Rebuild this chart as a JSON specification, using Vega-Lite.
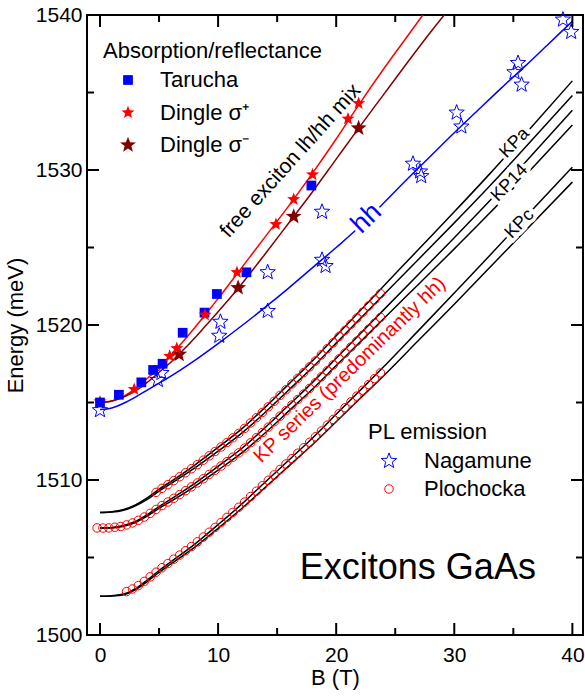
{
"$schema": "https://vega.github.io/schema/vega-lite/v6.json",
"width": 496, "height": 620,
"autosize": {"type": "none"},
"padding": {"left": 87, "top": 15, "right": 2, "bottom": 63},
"config": {
 "font": "Liberation Sans",
 "view": {"stroke": "black", "strokeWidth": 2},
 "axis": {"labelFontSize": 21, "titleFontSize": 22, "labelColor": "black", "titleColor": "black", "titleFontWeight": "normal", "grid": false, "domain": false, "ticks": false, "format": "d"},
 "legend": {"titleFontSize": 22, "labelFontSize": 22, "titleFontWeight": "normal", "titleColor": "black", "labelColor": "black", "titleLimit": 400, "labelLimit": 300}
},
"datasets": {
 "xmaj": [{"B":0},{"B":10},{"B":20},{"B":30},{"B":40}],
 "xmin": [{"B":5},{"B":15},{"B":25},{"B":35}],
 "ymaj": [{"E":1500},{"E":1510},{"E":1520},{"E":1530},{"E":1540}],
 "ymin": [{"E":1505},{"E":1515},{"E":1525},{"E":1535}],
 "curves": [
  {"c":"s+","B":0,"E":1515.0},{"c":"s+","B":1,"E":1515.1},{"c":"s+","B":2,"E":1515.4},{"c":"s+","B":3,"E":1515.9},{"c":"s+","B":4,"E":1516.55},{"c":"s+","B":5,"E":1517.25},{"c":"s+","B":6,"E":1518.05},{"c":"s+","B":7,"E":1518.9},{"c":"s+","B":8,"E":1519.8},{"c":"s+","B":9,"E":1520.75},{"c":"s+","B":10,"E":1521.7},{"c":"s+","B":12,"E":1523.7},{"c":"s+","B":14,"E":1525.7},{"c":"s+","B":16,"E":1527.7},{"c":"s+","B":18,"E":1529.8},{"c":"s+","B":20,"E":1532.0},{"c":"s+","B":22,"E":1534.3},{"c":"s+","B":24,"E":1536.5},{"c":"s+","B":26,"E":1538.6},{"c":"s+","B":28,"E":1540.7},
  {"c":"s-","B":0,"E":1515.0},{"c":"s-","B":1,"E":1515.1},{"c":"s-","B":2,"E":1515.35},{"c":"s-","B":3,"E":1515.75},{"c":"s-","B":4,"E":1516.3},{"c":"s-","B":5,"E":1516.95},{"c":"s-","B":6,"E":1517.6},{"c":"s-","B":7,"E":1518.35},{"c":"s-","B":8,"E":1519.15},{"c":"s-","B":9,"E":1520.0},{"c":"s-","B":10,"E":1520.85},{"c":"s-","B":12,"E":1522.65},{"c":"s-","B":14,"E":1524.6},{"c":"s-","B":16,"E":1526.6},{"c":"s-","B":18,"E":1528.6},{"c":"s-","B":20,"E":1530.7},{"c":"s-","B":22,"E":1532.8},{"c":"s-","B":24,"E":1534.85},{"c":"s-","B":26,"E":1536.9},{"c":"s-","B":28,"E":1538.9},{"c":"s-","B":30,"E":1540.8},
  {"c":"hh","B":0,"E":1514.55},{"c":"hh","B":1,"E":1514.65},{"c":"hh","B":2,"E":1514.95},{"c":"hh","B":3,"E":1515.35},{"c":"hh","B":4,"E":1515.8},{"c":"hh","B":5,"E":1516.25},{"c":"hh","B":6,"E":1516.7},{"c":"hh","B":8,"E":1517.7},{"c":"hh","B":10,"E":1518.8},{"c":"hh","B":12,"E":1519.95},{"c":"hh","B":14,"E":1521.15},{"c":"hh","B":16,"E":1522.4},{"c":"hh","B":18,"E":1523.7},{"c":"hh","B":20,"E":1525.0},{"c":"hh","B":22,"E":1526.35},{"c":"hh","B":24,"E":1527.85},{"c":"hh","B":26,"E":1529.4},{"c":"hh","B":28,"E":1530.9},{"c":"hh","B":30,"E":1532.4},{"c":"hh","B":32,"E":1533.85},{"c":"hh","B":34,"E":1535.3},{"c":"hh","B":36,"E":1536.7},{"c":"hh","B":38,"E":1538.15},{"c":"hh","B":40,"E":1539.6},
  {"c":"k1","B":0,"E":1507.9},{"c":"k1","B":1,"E":1507.95},{"c":"k1","B":2,"E":1508.1},{"c":"k1","B":3,"E":1508.4},{"c":"k1","B":4,"E":1508.85},{"c":"k1","B":5,"E":1509.4},{"c":"k1","B":6,"E":1509.9},{"c":"k1","B":8,"E":1510.95},{"c":"k1","B":10,"E":1512.1},{"c":"k1","B":12,"E":1513.3},{"c":"k1","B":14,"E":1514.7},{"c":"k1","B":16,"E":1516.2},{"c":"k1","B":18,"E":1517.7},{"c":"k1","B":20,"E":1519.3},{"c":"k1","B":22,"E":1520.9},{"c":"k1","B":24,"E":1522.5},{"c":"k1","B":27,"E":1524.9},{"c":"k1","B":30,"E":1527.3},{"c":"k1","B":33,"E":1529.75},{"c":"k1","B":36,"E":1532.3},{"c":"k1","B":40,"E":1535.75},
  {"c":"k2","B":0,"E":1507.9},{"c":"k2","B":1,"E":1507.93},{"c":"k2","B":2,"E":1508.05},{"c":"k2","B":3,"E":1508.33},{"c":"k2","B":4,"E":1508.75},{"c":"k2","B":5,"E":1509.28},{"c":"k2","B":6,"E":1509.76},{"c":"k2","B":8,"E":1510.76},{"c":"k2","B":10,"E":1511.86},{"c":"k2","B":12,"E":1513.02},{"c":"k2","B":14,"E":1514.37},{"c":"k2","B":16,"E":1515.82},{"c":"k2","B":18,"E":1517.27},{"c":"k2","B":20,"E":1518.83},{"c":"k2","B":22,"E":1520.38},{"c":"k2","B":24,"E":1521.93},{"c":"k2","B":27,"E":1524.26},{"c":"k2","B":30,"E":1526.59},{"c":"k2","B":33,"E":1528.97},{"c":"k2","B":36,"E":1531.45},{"c":"k2","B":40,"E":1534.8},
  {"c":"k3","B":0,"E":1506.9},{"c":"k3","B":1,"E":1506.93},{"c":"k3","B":2,"E":1507.06},{"c":"k3","B":3,"E":1507.33},{"c":"k3","B":4,"E":1507.76},{"c":"k3","B":5,"E":1508.29},{"c":"k3","B":6,"E":1508.77},{"c":"k3","B":8,"E":1509.77},{"c":"k3","B":10,"E":1510.88},{"c":"k3","B":12,"E":1512.03},{"c":"k3","B":14,"E":1513.39},{"c":"k3","B":16,"E":1514.84},{"c":"k3","B":18,"E":1516.3},{"c":"k3","B":20,"E":1517.85},{"c":"k3","B":22,"E":1519.41},{"c":"k3","B":24,"E":1520.96},{"c":"k3","B":27,"E":1523.29},{"c":"k3","B":30,"E":1525.63},{"c":"k3","B":33,"E":1528.01},{"c":"k3","B":36,"E":1530.49},{"c":"k3","B":40,"E":1533.85},
  {"c":"k4","B":0,"E":1506.9},{"c":"k4","B":1,"E":1506.9},{"c":"k4","B":2,"E":1507.01},{"c":"k4","B":3,"E":1507.26},{"c":"k4","B":4,"E":1507.67},{"c":"k4","B":5,"E":1508.17},{"c":"k4","B":6,"E":1508.62},{"c":"k4","B":8,"E":1509.58},{"c":"k4","B":10,"E":1510.64},{"c":"k4","B":12,"E":1511.75},{"c":"k4","B":14,"E":1513.05},{"c":"k4","B":16,"E":1514.46},{"c":"k4","B":18,"E":1515.87},{"c":"k4","B":20,"E":1517.38},{"c":"k4","B":22,"E":1518.88},{"c":"k4","B":24,"E":1520.39},{"c":"k4","B":27,"E":1522.65},{"c":"k4","B":30,"E":1524.91},{"c":"k4","B":33,"E":1527.22},{"c":"k4","B":36,"E":1529.63},{"c":"k4","B":40,"E":1532.9},
  {"c":"k5","B":0,"E":1502.5},{"c":"k5","B":1,"E":1502.54},{"c":"k5","B":2,"E":1502.64},{"c":"k5","B":3,"E":1502.99},{"c":"k5","B":4,"E":1503.55},{"c":"k5","B":5,"E":1504.16},{"c":"k5","B":6,"E":1504.72},{"c":"k5","B":8,"E":1505.85},{"c":"k5","B":10,"E":1507.12},{"c":"k5","B":12,"E":1508.44},{"c":"k5","B":14,"E":1509.87},{"c":"k5","B":16,"E":1511.29},{"c":"k5","B":18,"E":1512.71},{"c":"k5","B":20,"E":1514.24},{"c":"k5","B":22,"E":1515.76},{"c":"k5","B":24,"E":1517.29},{"c":"k5","B":27,"E":1519.67},{"c":"k5","B":30,"E":1522.06},{"c":"k5","B":33,"E":1524.49},{"c":"k5","B":36,"E":1526.93},{"c":"k5","B":40,"E":1530.18},
  {"c":"k6","B":0,"E":1502.5},{"c":"k6","B":1,"E":1502.52},{"c":"k6","B":2,"E":1502.6},{"c":"k6","B":3,"E":1502.91},{"c":"k6","B":4,"E":1503.45},{"c":"k6","B":5,"E":1504.04},{"c":"k6","B":6,"E":1504.58},{"c":"k6","B":8,"E":1505.65},{"c":"k6","B":10,"E":1506.88},{"c":"k6","B":12,"E":1508.16},{"c":"k6","B":14,"E":1509.53},{"c":"k6","B":16,"E":1510.91},{"c":"k6","B":18,"E":1512.29},{"c":"k6","B":20,"E":1513.76},{"c":"k6","B":22,"E":1515.24},{"c":"k6","B":24,"E":1516.71},{"c":"k6","B":27,"E":1519.03},{"c":"k6","B":30,"E":1521.34},{"c":"k6","B":33,"E":1523.71},{"c":"k6","B":36,"E":1526.07},{"c":"k6","B":40,"E":1529.22}
 ],
 "pl": [
  {"s":"Nagamune","B":0,"E":1514.5},{"s":"Nagamune","B":4.9,"E":1516.45},{"s":"Nagamune","B":5.2,"E":1516.9},{"s":"Nagamune","B":10.2,"E":1520.2},{"s":"Nagamune","B":10.1,"E":1519.3},{"s":"Nagamune","B":14.2,"E":1523.4},{"s":"Nagamune","B":14.2,"E":1520.9},{"s":"Nagamune","B":18.8,"E":1527.3},{"s":"Nagamune","B":18.8,"E":1524.2},{"s":"Nagamune","B":19.1,"E":1523.8},{"s":"Nagamune","B":26.5,"E":1530.4},{"s":"Nagamune","B":27.1,"E":1529.9},{"s":"Nagamune","B":27.2,"E":1529.6},{"s":"Nagamune","B":30.2,"E":1533.7},{"s":"Nagamune","B":30.6,"E":1532.8},{"s":"Nagamune","B":35.1,"E":1536.3},{"s":"Nagamune","B":35.4,"E":1536.9},{"s":"Nagamune","B":35.7,"E":1535.5},{"s":"Nagamune","B":39.2,"E":1539.7},{"s":"Nagamune","B":39.9,"E":1538.9},
  {"s":"Plochocka","B":-0.25,"E":1506.91},{"s":"Plochocka","B":0.25,"E":1506.9},{"s":"Plochocka","B":0.75,"E":1506.91},{"s":"Plochocka","B":1.25,"E":1506.95},{"s":"Plochocka","B":1.75,"E":1507.0},{"s":"Plochocka","B":2.25,"E":1507.1},{"s":"Plochocka","B":2.75,"E":1507.23},{"s":"Plochocka","B":3.25,"E":1507.4},{"s":"Plochocka","B":3.75,"E":1507.61},{"s":"Plochocka","B":4.25,"E":1507.85},{"s":"Plochocka","B":4.75,"E":1508.1},{"s":"Plochocka","B":5.25,"E":1508.35},{"s":"Plochocka","B":5.75,"E":1508.58},{"s":"Plochocka","B":6.25,"E":1508.82},{"s":"Plochocka","B":6.75,"E":1509.06},{"s":"Plochocka","B":7.25,"E":1509.31},{"s":"Plochocka","B":7.75,"E":1509.56},{"s":"Plochocka","B":8.25,"E":1509.81},{"s":"Plochocka","B":8.75,"E":1510.08},{"s":"Plochocka","B":9.25,"E":1510.36},{"s":"Plochocka","B":9.75,"E":1510.63},{"s":"Plochocka","B":10.25,"E":1510.9},{"s":"Plochocka","B":10.75,"E":1511.18},{"s":"Plochocka","B":11.25,"E":1511.47},{"s":"Plochocka","B":11.75,"E":1511.75},{"s":"Plochocka","B":12.25,"E":1512.06},{"s":"Plochocka","B":12.75,"E":1512.4},{"s":"Plochocka","B":13.25,"E":1512.73},{"s":"Plochocka","B":13.75,"E":1513.06},{"s":"Plochocka","B":14.25,"E":1513.41},{"s":"Plochocka","B":14.75,"E":1513.76},{"s":"Plochocka","B":15.25,"E":1514.12},{"s":"Plochocka","B":15.75,"E":1514.47},{"s":"Plochocka","B":16.25,"E":1514.84},{"s":"Plochocka","B":16.75,"E":1515.19},{"s":"Plochocka","B":17.25,"E":1515.55},{"s":"Plochocka","B":17.75,"E":1515.91},{"s":"Plochocka","B":18.25,"E":1516.28},{"s":"Plochocka","B":18.75,"E":1516.66},{"s":"Plochocka","B":19.25,"E":1517.05},{"s":"Plochocka","B":19.75,"E":1517.43},{"s":"Plochocka","B":20.25,"E":1517.81},{"s":"Plochocka","B":20.75,"E":1518.19},{"s":"Plochocka","B":21.25,"E":1518.58},{"s":"Plochocka","B":21.75,"E":1518.96},{"s":"Plochocka","B":22.25,"E":1519.34},{"s":"Plochocka","B":22.75,"E":1519.73},{"s":"Plochocka","B":23.25,"E":1520.11},{"s":"Plochocka","B":23.75,"E":1520.49},
  {"s":"Plochocka","B":4.75,"E":1509.2},{"s":"Plochocka","B":5.25,"E":1509.46},{"s":"Plochocka","B":5.75,"E":1509.7},{"s":"Plochocka","B":6.25,"E":1509.96},{"s":"Plochocka","B":6.75,"E":1510.21},{"s":"Plochocka","B":7.25,"E":1510.47},{"s":"Plochocka","B":7.75,"E":1510.73},{"s":"Plochocka","B":8.25,"E":1510.99},{"s":"Plochocka","B":8.75,"E":1511.28},{"s":"Plochocka","B":9.25,"E":1511.56},{"s":"Plochocka","B":9.75,"E":1511.84},{"s":"Plochocka","B":10.25,"E":1512.13},{"s":"Plochocka","B":10.75,"E":1512.42},{"s":"Plochocka","B":11.25,"E":1512.72},{"s":"Plochocka","B":11.75,"E":1513.01},{"s":"Plochocka","B":12.25,"E":1513.33},{"s":"Plochocka","B":12.75,"E":1513.68},{"s":"Plochocka","B":13.25,"E":1514.02},{"s":"Plochocka","B":13.75,"E":1514.36},{"s":"Plochocka","B":14.25,"E":1514.72},{"s":"Plochocka","B":14.75,"E":1515.08},{"s":"Plochocka","B":15.25,"E":1515.46},{"s":"Plochocka","B":15.75,"E":1515.82},{"s":"Plochocka","B":16.25,"E":1516.2},{"s":"Plochocka","B":16.75,"E":1516.56},{"s":"Plochocka","B":17.25,"E":1516.93},{"s":"Plochocka","B":17.75,"E":1517.3},{"s":"Plochocka","B":18.25,"E":1517.68},{"s":"Plochocka","B":18.75,"E":1518.08},{"s":"Plochocka","B":19.25,"E":1518.47},{"s":"Plochocka","B":19.75,"E":1518.86},{"s":"Plochocka","B":20.25,"E":1519.26},{"s":"Plochocka","B":20.75,"E":1519.65},{"s":"Plochocka","B":21.25,"E":1520.05},{"s":"Plochocka","B":21.75,"E":1520.44},{"s":"Plochocka","B":22.25,"E":1520.83},{"s":"Plochocka","B":22.75,"E":1521.23},{"s":"Plochocka","B":23.25,"E":1521.62},{"s":"Plochocka","B":23.75,"E":1522.02},
  {"s":"Plochocka","B":2.25,"E":1502.8},{"s":"Plochocka","B":2.75,"E":1502.97},{"s":"Plochocka","B":3.25,"E":1503.19},{"s":"Plochocka","B":3.75,"E":1503.46},{"s":"Plochocka","B":4.25,"E":1503.75},{"s":"Plochocka","B":4.75,"E":1504.05},{"s":"Plochocka","B":5.25,"E":1504.34},{"s":"Plochocka","B":5.75,"E":1504.61},{"s":"Plochocka","B":6.25,"E":1504.89},{"s":"Plochocka","B":6.75,"E":1505.16},{"s":"Plochocka","B":7.25,"E":1505.44},{"s":"Plochocka","B":7.75,"E":1505.71},{"s":"Plochocka","B":8.25,"E":1506.01},{"s":"Plochocka","B":8.75,"E":1506.32},{"s":"Plochocka","B":9.25,"E":1506.63},{"s":"Plochocka","B":9.75,"E":1506.94},{"s":"Plochocka","B":10.25,"E":1507.26},{"s":"Plochocka","B":10.75,"E":1507.59},{"s":"Plochocka","B":11.25,"E":1507.91},{"s":"Plochocka","B":11.75,"E":1508.24},{"s":"Plochocka","B":12.25,"E":1508.58},{"s":"Plochocka","B":12.75,"E":1508.93},{"s":"Plochocka","B":13.25,"E":1509.28},{"s":"Plochocka","B":13.75,"E":1509.63},{"s":"Plochocka","B":14.25,"E":1509.98},{"s":"Plochocka","B":14.75,"E":1510.33},{"s":"Plochocka","B":15.25,"E":1510.68},{"s":"Plochocka","B":15.75,"E":1511.03},{"s":"Plochocka","B":16.25,"E":1511.38},{"s":"Plochocka","B":16.75,"E":1511.73},{"s":"Plochocka","B":17.25,"E":1512.08},{"s":"Plochocka","B":17.75,"E":1512.43},{"s":"Plochocka","B":18.25,"E":1512.79},{"s":"Plochocka","B":18.75,"E":1513.16},{"s":"Plochocka","B":19.25,"E":1513.54},{"s":"Plochocka","B":19.75,"E":1513.91},{"s":"Plochocka","B":20.25,"E":1514.29},{"s":"Plochocka","B":20.75,"E":1514.66},{"s":"Plochocka","B":21.25,"E":1515.04},{"s":"Plochocka","B":21.75,"E":1515.41},{"s":"Plochocka","B":22.25,"E":1515.79},{"s":"Plochocka","B":22.75,"E":1516.16},{"s":"Plochocka","B":23.25,"E":1516.54},{"s":"Plochocka","B":23.75,"E":1516.91}
 ],
 "abs": [
  {"s":"Dingle σ⁺","B":0,"E":1515.05},
  {"s":"Tarucha","B":0,"E":1515.0},{"s":"Tarucha","B":1.6,"E":1515.5},{"s":"Tarucha","B":3.5,"E":1516.3},{"s":"Tarucha","B":4.5,"E":1517.1},{"s":"Tarucha","B":5.3,"E":1517.5},{"s":"Tarucha","B":7.0,"E":1519.5},{"s":"Tarucha","B":8.85,"E":1520.8},{"s":"Tarucha","B":9.9,"E":1522.0},{"s":"Tarucha","B":12.4,"E":1523.4},{"s":"Tarucha","B":17.9,"E":1529.0},
  {"s":"Dingle σ⁻","B":6.7,"E":1518.1},{"s":"Dingle σ⁻","B":11.7,"E":1522.4},{"s":"Dingle σ⁻","B":16.4,"E":1527.0},{"s":"Dingle σ⁻","B":21.9,"E":1532.7},
  {"s":"Dingle σ⁺","B":2.9,"E":1515.85},{"s":"Dingle σ⁺","B":5.9,"E":1518.0},{"s":"Dingle σ⁺","B":6.5,"E":1518.5},{"s":"Dingle σ⁺","B":8.9,"E":1520.65},{"s":"Dingle σ⁺","B":11.6,"E":1523.4},{"s":"Dingle σ⁺","B":14.9,"E":1526.5},{"s":"Dingle σ⁺","B":16.4,"E":1528.1},{"s":"Dingle σ⁺","B":18.0,"E":1529.7},{"s":"Dingle σ⁺","B":21.0,"E":1533.3},{"s":"Dingle σ⁺","B":21.9,"E":1534.3}
 ],
 "kp": [
  {"B":35.11,"E":1531.74,"t":"KPa"},{"B":34.69,"E":1529.16,"t":"KP14"},{"B":35.53,"E":1526.52,"t":"KPc"}
 ]
},
"resolve": {"scale": {"color": "independent", "shape": "independent", "size": "independent"}, "axis": {"x": "independent", "y": "independent"}},
"layer": [
 {
  "data": {"name": "curves"},
  "mark": {"type": "line", "interpolate": "monotone", "strokeWidth": 1.5, "clip": true},
  "encoding": {
   "x": {"field": "B", "type": "quantitative", "scale": {"domain": [-1.1, 40.9], "nice": false, "zero": false}, "axis": {"orient": "bottom", "values": [0, 10, 20, 30, 40], "ticks": false, "labelPadding": 9, "title": "B (T)", "titlePadding": 2}},
   "y": {"field": "E", "type": "quantitative", "scale": {"domain": [1500, 1540], "nice": false, "zero": false}, "axis": {"orient": "left", "values": [1500, 1510, 1520, 1530, 1540], "ticks": false, "labelPadding": 5, "title": "Energy (meV)", "titlePadding": 8}},
   "color": {"field": "c", "type": "nominal", "scale": {"domain": ["s+", "s-", "hh", "k1", "k2", "k3", "k4", "k5", "k6"], "range": ["#ff0000", "#800000", "#0000ff", "#000000", "#000000", "#000000", "#000000", "#000000", "#000000"]}, "legend": null}
  }
 },
 {
  "data": {"name": "pl"},
  "mark": {"type": "point", "filled": false, "strokeWidth": 1, "opacity": 1},
  "encoding": {
   "x": {"field": "B", "type": "quantitative", "scale": {"domain": [-1.1, 40.9], "nice": false, "zero": false}, "axis": null},
   "y": {"field": "E", "type": "quantitative", "scale": {"domain": [1500, 1540], "nice": false, "zero": false}, "axis": null},
   "color": {"field": "s", "type": "nominal", "scale": {"domain": ["Nagamune", "Plochocka"], "range": ["#0000ff", "#ff0000"]},
     "legend": {"title": "PL emission", "orient": "none", "legendX": 281, "legendY": 407, "symbolOffset": 10, "labelOffset": 24, "rowPadding": 6, "titlePadding": 6, "symbolStrokeWidth": 1}},
   "shape": {"field": "s", "type": "nominal", "scale": {"domain": ["Nagamune", "Plochocka"], "range": ["M0,-1L0.247,-0.34L0.951,-0.309L0.4,0.13L0.588,0.809L0,0.42L-0.588,0.809L-0.4,0.13L-0.951,-0.309L-0.247,-0.34Z", "circle"]}},
   "size": {"field": "s", "type": "nominal", "scale": {"domain": ["Nagamune", "Plochocka"], "range": [260, 72]}}
  }
 },
 {
  "data": {"name": "abs"},
  "mark": {"type": "point", "filled": true, "opacity": 1},
  "encoding": {
   "x": {"field": "B", "type": "quantitative", "scale": {"domain": [-1.1, 40.9], "nice": false, "zero": false}, "axis": null},
   "y": {"field": "E", "type": "quantitative", "scale": {"domain": [1500, 1540], "nice": false, "zero": false}, "axis": null},
   "color": {"field": "s", "type": "nominal", "scale": {"domain": ["Tarucha", "Dingle σ⁺", "Dingle σ⁻"], "range": ["#0000ff", "#ff0000", "#800000"]},
     "legend": {"title": "Absorption/reflectance", "orient": "none", "legendX": 16, "legendY": 26, "symbolOffset": 14, "labelOffset": 21, "rowPadding": 10.5, "titlePadding": 6}},
   "shape": {"field": "s", "type": "nominal", "scale": {"domain": ["Tarucha", "Dingle σ⁺", "Dingle σ⁻"], "range": ["square", "M0,-1L0.247,-0.34L0.951,-0.309L0.4,0.13L0.588,0.809L0,0.42L-0.588,0.809L-0.4,0.13L-0.951,-0.309L-0.247,-0.34Z", "M0,-1L0.247,-0.34L0.951,-0.309L0.4,0.13L0.588,0.809L0,0.42L-0.588,0.809L-0.4,0.13L-0.951,-0.309L-0.247,-0.34Z"]}},
   "size": {"field": "s", "type": "nominal", "scale": {"domain": ["Tarucha", "Dingle σ⁺", "Dingle σ⁻"], "range": [95, 280, 280]}}
  }
 },
 {
  "data": {"name": "kp"},
  "mark": {"type": "text", "angle": -46, "fontSize": 18, "align": "center", "baseline": "middle", "fill": "white", "stroke": "white", "strokeWidth": 7},
  "encoding": {
   "x": {"field": "B", "type": "quantitative", "scale": {"domain": [-1.1, 40.9], "nice": false, "zero": false}, "axis": null},
   "y": {"field": "E", "type": "quantitative", "scale": {"domain": [1500, 1540], "nice": false, "zero": false}, "axis": null},
   "text": {"field": "t"}
  }
 },
 {
  "data": {"name": "kp"},
  "mark": {"type": "text", "angle": -46, "fontSize": 18, "align": "center", "baseline": "middle", "fill": "black"},
  "encoding": {
   "x": {"field": "B", "type": "quantitative", "scale": {"domain": [-1.1, 40.9], "nice": false, "zero": false}, "axis": null},
   "y": {"field": "E", "type": "quantitative", "scale": {"domain": [1500, 1540], "nice": false, "zero": false}, "axis": null},
   "text": {"field": "t"}
  }
 },
 {
  "data": {"values": [{"B": 22.56, "E": 1526.88, "t": "hh"}]},
  "mark": {"type": "text", "angle": -44, "fontSize": 27, "align": "center", "baseline": "middle", "fill": "white", "stroke": "white", "strokeWidth": 7},
  "encoding": {
   "x": {"field": "B", "type": "quantitative", "scale": {"domain": [-1.1, 40.9], "nice": false, "zero": false}, "axis": null},
   "y": {"field": "E", "type": "quantitative", "scale": {"domain": [1500, 1540], "nice": false, "zero": false}, "axis": null},
   "text": {"field": "t"}
  }
 },
 {
  "data": {"values": [{"B": 22.56, "E": 1526.88, "t": "hh"}]},
  "mark": {"type": "text", "angle": -44, "fontSize": 27, "align": "center", "baseline": "middle", "fill": "#0000ff"},
  "encoding": {
   "x": {"field": "B", "type": "quantitative", "scale": {"domain": [-1.1, 40.9], "nice": false, "zero": false}, "axis": null},
   "y": {"field": "E", "type": "quantitative", "scale": {"domain": [1500, 1540], "nice": false, "zero": false}, "axis": null},
   "text": {"field": "t"}
  }
 },
 {
  "data": {"values": [{"B": 16.15, "E": 1530.58, "t": "free exciton lh/hh mix"}]},
  "mark": {"type": "text", "angle": -48, "fontSize": 21, "align": "center", "baseline": "middle", "fill": "black"},
  "encoding": {
   "x": {"field": "B", "type": "quantitative", "scale": {"domain": [-1.1, 40.9], "nice": false, "zero": false}, "axis": null},
   "y": {"field": "E", "type": "quantitative", "scale": {"domain": [1500, 1540], "nice": false, "zero": false}, "axis": null},
   "text": {"field": "t"}
  }
 },
 {
  "data": {"values": [{"B": 21.15, "E": 1517.1, "t": "KP series (predominantly hh)"}]},
  "mark": {"type": "text", "angle": -44, "fontSize": 20, "align": "center", "baseline": "middle", "fill": "#ff0000"},
  "encoding": {
   "x": {"field": "B", "type": "quantitative", "scale": {"domain": [-1.1, 40.9], "nice": false, "zero": false}, "axis": null},
   "y": {"field": "E", "type": "quantitative", "scale": {"domain": [1500, 1540], "nice": false, "zero": false}, "axis": null},
   "text": {"field": "t"}
  }
 },
 {
  "data": {"values": [{"B": 16.92, "E": 1504.3, "t": "Excitons GaAs"}]},
  "mark": {"type": "text", "fontSize": 36, "align": "left", "baseline": "middle", "fill": "black"},
  "encoding": {
   "x": {"field": "B", "type": "quantitative", "scale": {"domain": [-1.1, 40.9], "nice": false, "zero": false}, "axis": null},
   "y": {"field": "E", "type": "quantitative", "scale": {"domain": [1500, 1540], "nice": false, "zero": false}, "axis": null},
   "text": {"field": "t"}
  }
 },
 {
  "data": {"name": "xmaj"},
  "mark": {"type": "tick", "orient": "vertical", "size": 24, "thickness": 2, "color": "black", "opacity": 1, "clip": true},
  "encoding": {
   "x": {"field": "B", "type": "quantitative", "scale": {"domain": [-1.1, 40.9], "nice": false, "zero": false}, "axis": null},
   "y": {"datum": 1500, "type": "quantitative", "scale": {"domain": [1500, 1540], "nice": false, "zero": false}, "axis": null}
  }
 },
 {
  "data": {"name": "xmaj"},
  "mark": {"type": "tick", "orient": "vertical", "size": 24, "thickness": 2, "color": "black", "opacity": 1, "clip": true},
  "encoding": {
   "x": {"field": "B", "type": "quantitative", "scale": {"domain": [-1.1, 40.9], "nice": false, "zero": false}, "axis": null},
   "y": {"datum": 1540, "type": "quantitative", "scale": {"domain": [1500, 1540], "nice": false, "zero": false}, "axis": null}
  }
 },
 {
  "data": {"name": "xmin"},
  "mark": {"type": "tick", "orient": "vertical", "size": 14, "thickness": 2, "color": "black", "opacity": 1, "clip": true},
  "encoding": {
   "x": {"field": "B", "type": "quantitative", "scale": {"domain": [-1.1, 40.9], "nice": false, "zero": false}, "axis": null},
   "y": {"datum": 1500, "type": "quantitative", "scale": {"domain": [1500, 1540], "nice": false, "zero": false}, "axis": null}
  }
 },
 {
  "data": {"name": "xmin"},
  "mark": {"type": "tick", "orient": "vertical", "size": 14, "thickness": 2, "color": "black", "opacity": 1, "clip": true},
  "encoding": {
   "x": {"field": "B", "type": "quantitative", "scale": {"domain": [-1.1, 40.9], "nice": false, "zero": false}, "axis": null},
   "y": {"datum": 1540, "type": "quantitative", "scale": {"domain": [1500, 1540], "nice": false, "zero": false}, "axis": null}
  }
 },
 {
  "data": {"name": "ymaj"},
  "mark": {"type": "tick", "orient": "horizontal", "size": 24, "thickness": 2, "color": "black", "opacity": 1, "clip": true},
  "encoding": {
   "x": {"datum": -1.1, "type": "quantitative", "scale": {"domain": [-1.1, 40.9], "nice": false, "zero": false}, "axis": null},
   "y": {"field": "E", "type": "quantitative", "scale": {"domain": [1500, 1540], "nice": false, "zero": false}, "axis": null}
  }
 },
 {
  "data": {"name": "ymaj"},
  "mark": {"type": "tick", "orient": "horizontal", "size": 24, "thickness": 2, "color": "black", "opacity": 1, "clip": true},
  "encoding": {
   "x": {"datum": 40.9, "type": "quantitative", "scale": {"domain": [-1.1, 40.9], "nice": false, "zero": false}, "axis": null},
   "y": {"field": "E", "type": "quantitative", "scale": {"domain": [1500, 1540], "nice": false, "zero": false}, "axis": null}
  }
 },
 {
  "data": {"name": "ymin"},
  "mark": {"type": "tick", "orient": "horizontal", "size": 14, "thickness": 2, "color": "black", "opacity": 1, "clip": true},
  "encoding": {
   "x": {"datum": -1.1, "type": "quantitative", "scale": {"domain": [-1.1, 40.9], "nice": false, "zero": false}, "axis": null},
   "y": {"field": "E", "type": "quantitative", "scale": {"domain": [1500, 1540], "nice": false, "zero": false}, "axis": null}
  }
 },
 {
  "data": {"name": "ymin"},
  "mark": {"type": "tick", "orient": "horizontal", "size": 14, "thickness": 2, "color": "black", "opacity": 1, "clip": true},
  "encoding": {
   "x": {"datum": 40.9, "type": "quantitative", "scale": {"domain": [-1.1, 40.9], "nice": false, "zero": false}, "axis": null},
   "y": {"field": "E", "type": "quantitative", "scale": {"domain": [1500, 1540], "nice": false, "zero": false}, "axis": null}
  }
 }
]
}
